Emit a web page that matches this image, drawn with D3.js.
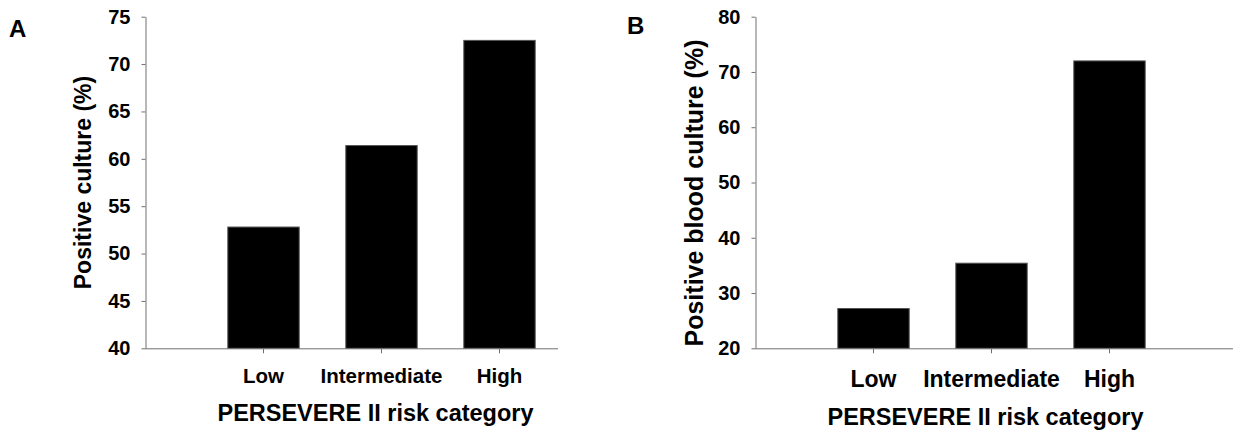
<!DOCTYPE html>
<html>
<head>
<meta charset="utf-8">
<script src="https://cdn.jsdelivr.net/npm/d3@7"></script>
<style>
  body { margin: 0; background: #fff; }
  svg text { font-family: "Liberation Sans", Arial, sans-serif; font-weight: bold; fill: #000; }
</style>
</head>
<body>
<svg id="svg"></svg>
<script>
const categories = ['Low', 'Intermediate', 'High'];
const positiveCulture = [52.8, 61.4, 72.5];
const positiveBloodCulture = [27.2, 35.4, 72.0];
const ticksA = [40, 45, 50, 55, 60, 65, 70, 75];
const ticksB = [20, 30, 40, 50, 60, 70, 80];

const svg = d3.select('#svg').attr('width', 1233).attr('height', 433);

const axisColor = '#707070';
const plotTop = 16.7, plotBottom = 348.3, step = 118;

function drawPanel(p) {
   let g = svg.append('g');

   let x = d3.scaleBand()
      .domain(categories)
      .range([p.x0 + step * 0.5, p.x0 + step * 3.5])
      .paddingInner(0.395)
      .paddingOuter(0.1975);

   let y = d3.scaleLinear()
      .domain([p.ticks[0], p.ticks[p.ticks.length - 1]])
      .range([plotBottom, plotTop]);

   // bars
   g.selectAll('rect.bar')
      .data(p.values)
      .enter().append('rect')
      .attr('class', 'bar')
      .attr('x', (d, i) => x(categories[i]))
      .attr('y', d => y(d))
      .attr('width', x.bandwidth())
      .attr('height', d => y(p.ticks[0]) - y(d))
      .style('fill', '#000')
      .style('stroke', '#555')
      .style('stroke-width', 1);

   // y axis
   let yAxis = g.append('g')
      .attr('transform', `translate(${p.x0},0)`)
      .call(d3.axisLeft(y).tickValues(p.ticks).tickSize(4).tickSizeOuter(0).tickPadding(11));
   yAxis.select('.domain').attr('stroke', axisColor);
   yAxis.selectAll('.tick line').attr('stroke', axisColor);
   yAxis.selectAll('.tick text').style('font-size', '20px');

   // x axis
   let xAxis = g.append('g')
      .attr('transform', `translate(0,${plotBottom})`)
      .call(d3.axisBottom(x).tickSize(5).tickSizeOuter(0).tickPadding(p.catPad));
   xAxis.select('.domain').remove();
   xAxis.selectAll('.tick line').attr('stroke', axisColor);
   xAxis.selectAll('.tick text').style('font-size', p.catSize + 'px');
   xAxis.append('line')
      .attr('x1', p.x0).attr('x2', p.xEnd)
      .attr('y1', 0.5).attr('y2', 0.5)
      .attr('stroke', axisColor);

   // axis titles
   g.append('text')
      .attr('x', x('Intermediate') + x.bandwidth() / 2 - 6)
      .attr('y', p.titleY)
      .attr('text-anchor', 'middle')
      .style('font-size', '23.5px')
      .text('PERSEVERE II risk category');

   g.append('text')
      .attr('transform', `translate(${p.yTitleX},${p.yTitleMid}) rotate(-90)`)
      .attr('text-anchor', 'middle')
      .style('font-size', p.yTitleSize + 'px')
      .text(p.yTitle);

   // panel letter
   g.append('text')
      .attr('x', p.letterX)
      .attr('y', p.letterY)
      .style('font-size', '24px')
      .text(p.letter);
}

drawPanel({
   x0: 145.5, xEnd: 558, values: positiveCulture, ticks: ticksA,
   catPad: 15, catSize: 20.5, titleY: 421,
   yTitle: 'Positive culture (%)', yTitleX: 91, yTitleMid: 182.5, yTitleSize: 23,
   letter: 'A', letterX: 9, letterY: 37
});

drawPanel({
   x0: 755.5, xEnd: 1233, values: positiveBloodCulture, ticks: ticksB,
   catPad: 17, catSize: 23, titleY: 425,
   yTitle: 'Positive blood culture (%)', yTitleX: 703, yTitleMid: 193, yTitleSize: 25,
   letter: 'B', letterX: 627, letterY: 34
});
</script>
</body>
</html>
